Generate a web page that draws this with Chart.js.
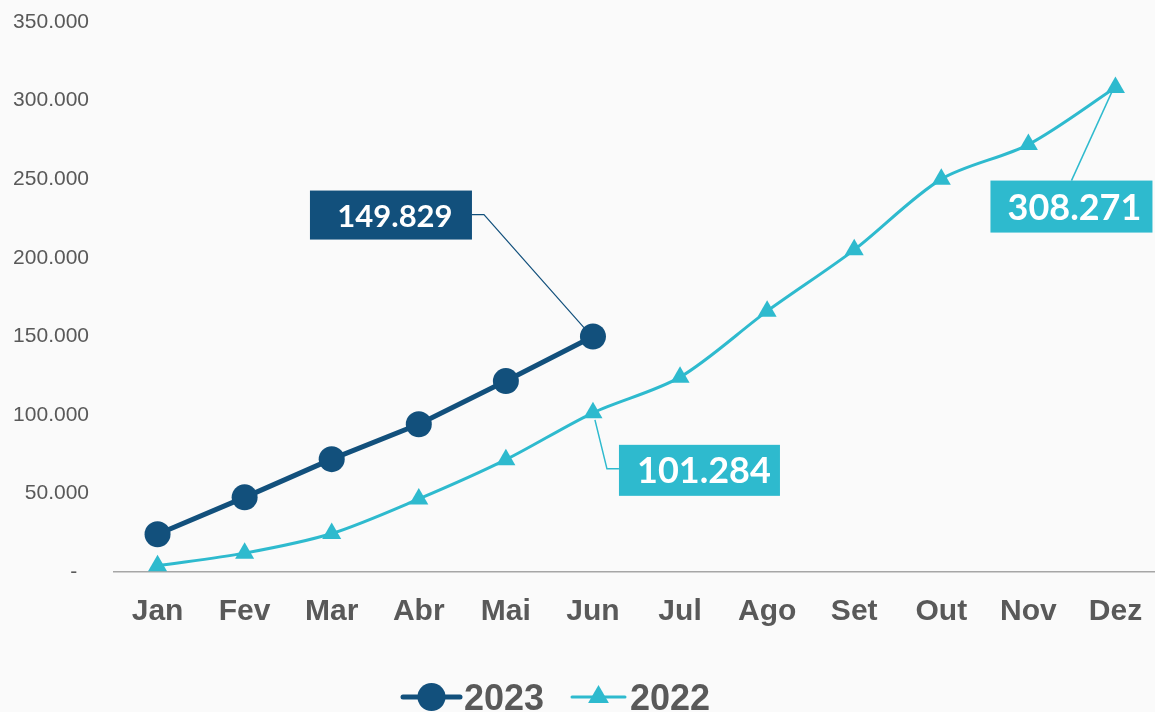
<!DOCTYPE html>
<html><head><meta charset="utf-8">
<script src="https://cdn.jsdelivr.net/npm/chart.js@4/dist/chart.umd.min.js"></script>
<style>
html,body{margin:0;padding:0;background:#fafafa;overflow:hidden;}
#wrap{width:1155px;height:712px;overflow:hidden;position:relative;background:#fafafa;}
canvas{display:block;}
</style></head><body>
<div id="wrap"><canvas id="c" width="1172" height="712"></canvas></div>
<script>
// ---- data ----
const months = ['Jan','Fev','Mar','Abr','Mai','Jun','Jul','Ago','Set','Out','Nov','Dez'];
const series2023 = [24000, 47500, 71800, 94000, 121500, 149829];
const series2022 = [4000, 12000, 24500, 46500, 71500, 101284, 124000, 166000, 205000, 250000, 272000, 308271];
const seriesNames = ['2023', '2022'];
const yMin = 0, yMax = 350000, yStep = 50000;

// ---- styles ----
const DARK = '#12507c';
const CYAN = '#2ebace';
const GREY = '#595959';

function fmt(n){ return String(Math.round(n)).replace(/\B(?=(\d{3})+(?!\d))/g, '.'); }

// annotation callouts: dataset index, point index, geometry relative to the point
const callouts = [
  {ds:0, idx:5, color:DARK, size:31, box:[-283,-146,162,49], text:[-198,-121], lineW:1.2,
   leader:[[-9,-9],[-109,-122],[-121,-122]]},
  {ds:1, idx:5, color:CYAN, size:36, box:[26,32,161,51], text:[111,58], lineW:1.5,
   leader:[[2,7],[14,56],[26,56]]},
  {ds:1, idx:11, color:CYAN, size:36, box:[-125,93,162,52], text:[-41,120], lineW:1.5,
   leader:[[-3,3],[-44,93]]}
];

const calloutPlugin = {
  id:'callouts',
  afterDatasetsDraw(chart){
    const ctx = chart.ctx;
    callouts.forEach(c => {
      const pt = chart.getDatasetMeta(c.ds).data[c.idx];
      const val = chart.data.datasets[c.ds].data[c.idx];
      const px = pt.x, py = pt.y;
      ctx.save();
      ctx.strokeStyle = c.color; ctx.lineWidth = c.lineW;
      ctx.beginPath();
      c.leader.forEach((o,i)=>{ if(i===0) ctx.moveTo(px+o[0],py+o[1]); else ctx.lineTo(px+o[0],py+o[1]); });
      ctx.stroke();
      ctx.fillStyle = c.color;
      ctx.fillRect(px+c.box[0], py+c.box[1], c.box[2], c.box[3]);
      ctx.fillStyle = '#ffffff';
      ctx.font = 'bold ' + c.size + 'px Lato';
      ctx.textAlign = 'center'; ctx.textBaseline = 'middle';
      ctx.fillText(fmt(val), px+c.text[0], py+c.text[1]+1);
      ctx.restore();
    });
  }
};

const legendPlugin = {
  id:'customLegend',
  afterDraw(chart){
    const ctx = chart.ctx;
    const y = 697;
    const items = [{x0:403,x1:460,tx:464},{x0:572,x1:625,tx:630}];
    chart.data.datasets.forEach((ds,i)=>{
      const it = items[i];
      ctx.save();
      ctx.strokeStyle = ds.borderColor; ctx.lineWidth = ds.borderWidth; ctx.lineCap = 'round';
      ctx.beginPath(); ctx.moveTo(it.x0,y); ctx.lineTo(it.x1,y); ctx.stroke();
      ctx.fillStyle = ds.pointBackgroundColor; ctx.strokeStyle = ds.pointBorderColor;
      Chart.helpers.drawPoint(ctx, {pointStyle: ds.pointStyle, radius: ds.pointRadius + 1, rotation:0, borderWidth:0}, (it.x0+it.x1)/2, y);
      ctx.fillStyle = GREY;
      ctx.font = 'bold 36px "Liberation Sans", Arial, sans-serif';
      ctx.textAlign = 'left'; ctx.textBaseline = 'alphabetic';
      ctx.fillText(ds.label, it.tx, y + 13);
      ctx.restore();
    });
  }
};

new Chart(document.getElementById('c'), {
  type:'line',
  data:{
    labels: months,
    datasets:[
      {label:seriesNames[0], data:series2023, borderColor:DARK, backgroundColor:DARK, borderWidth:5,
       pointStyle:'circle', pointRadius:13, pointBackgroundColor:DARK, pointBorderColor:DARK, pointBorderWidth:0,
       tension:0, fill:false},
      {label:seriesNames[1], data:series2022, borderColor:CYAN, backgroundColor:CYAN, borderWidth:3,
       pointStyle:'triangle', pointRadius:11, pointBackgroundColor:CYAN, pointBorderColor:CYAN, pointBorderWidth:0,
       tension:0.3, cubicInterpolationMode:'default', fill:false}
    ]
  },
  options:{
    responsive:false, animation:false, devicePixelRatio:1,
    layout:{padding:{top:22,bottom:60,left:0,right:0}},
    plugins:{legend:{display:false}, tooltip:{enabled:false}},
    scales:{
      x:{offset:true,
         grid:{display:false, drawTicks:false},
         border:{display:true, color:'#a6a6a6', width:1.5},
         ticks:{font:{family:'"Liberation Sans", Arial, sans-serif', size:30, weight:'bold'}, color:GREY, padding:22, maxRotation:0, autoSkip:false}},
      y:{min:yMin, max:yMax,
         grid:{display:false, drawTicks:false},
         border:{display:false},
         ticks:{stepSize:yStep, font:{family:'"Liberation Sans", Arial, sans-serif', size:21}, color:GREY, padding:25,
                callback:v => v===0 ? '-  ' : fmt(v)},
         afterFit:s => { s.width = 114; s.paddingTop = 0; s.paddingBottom = 0; }}
    }
  },
  plugins:[calloutPlugin, legendPlugin]
});
</script>
</body></html>
